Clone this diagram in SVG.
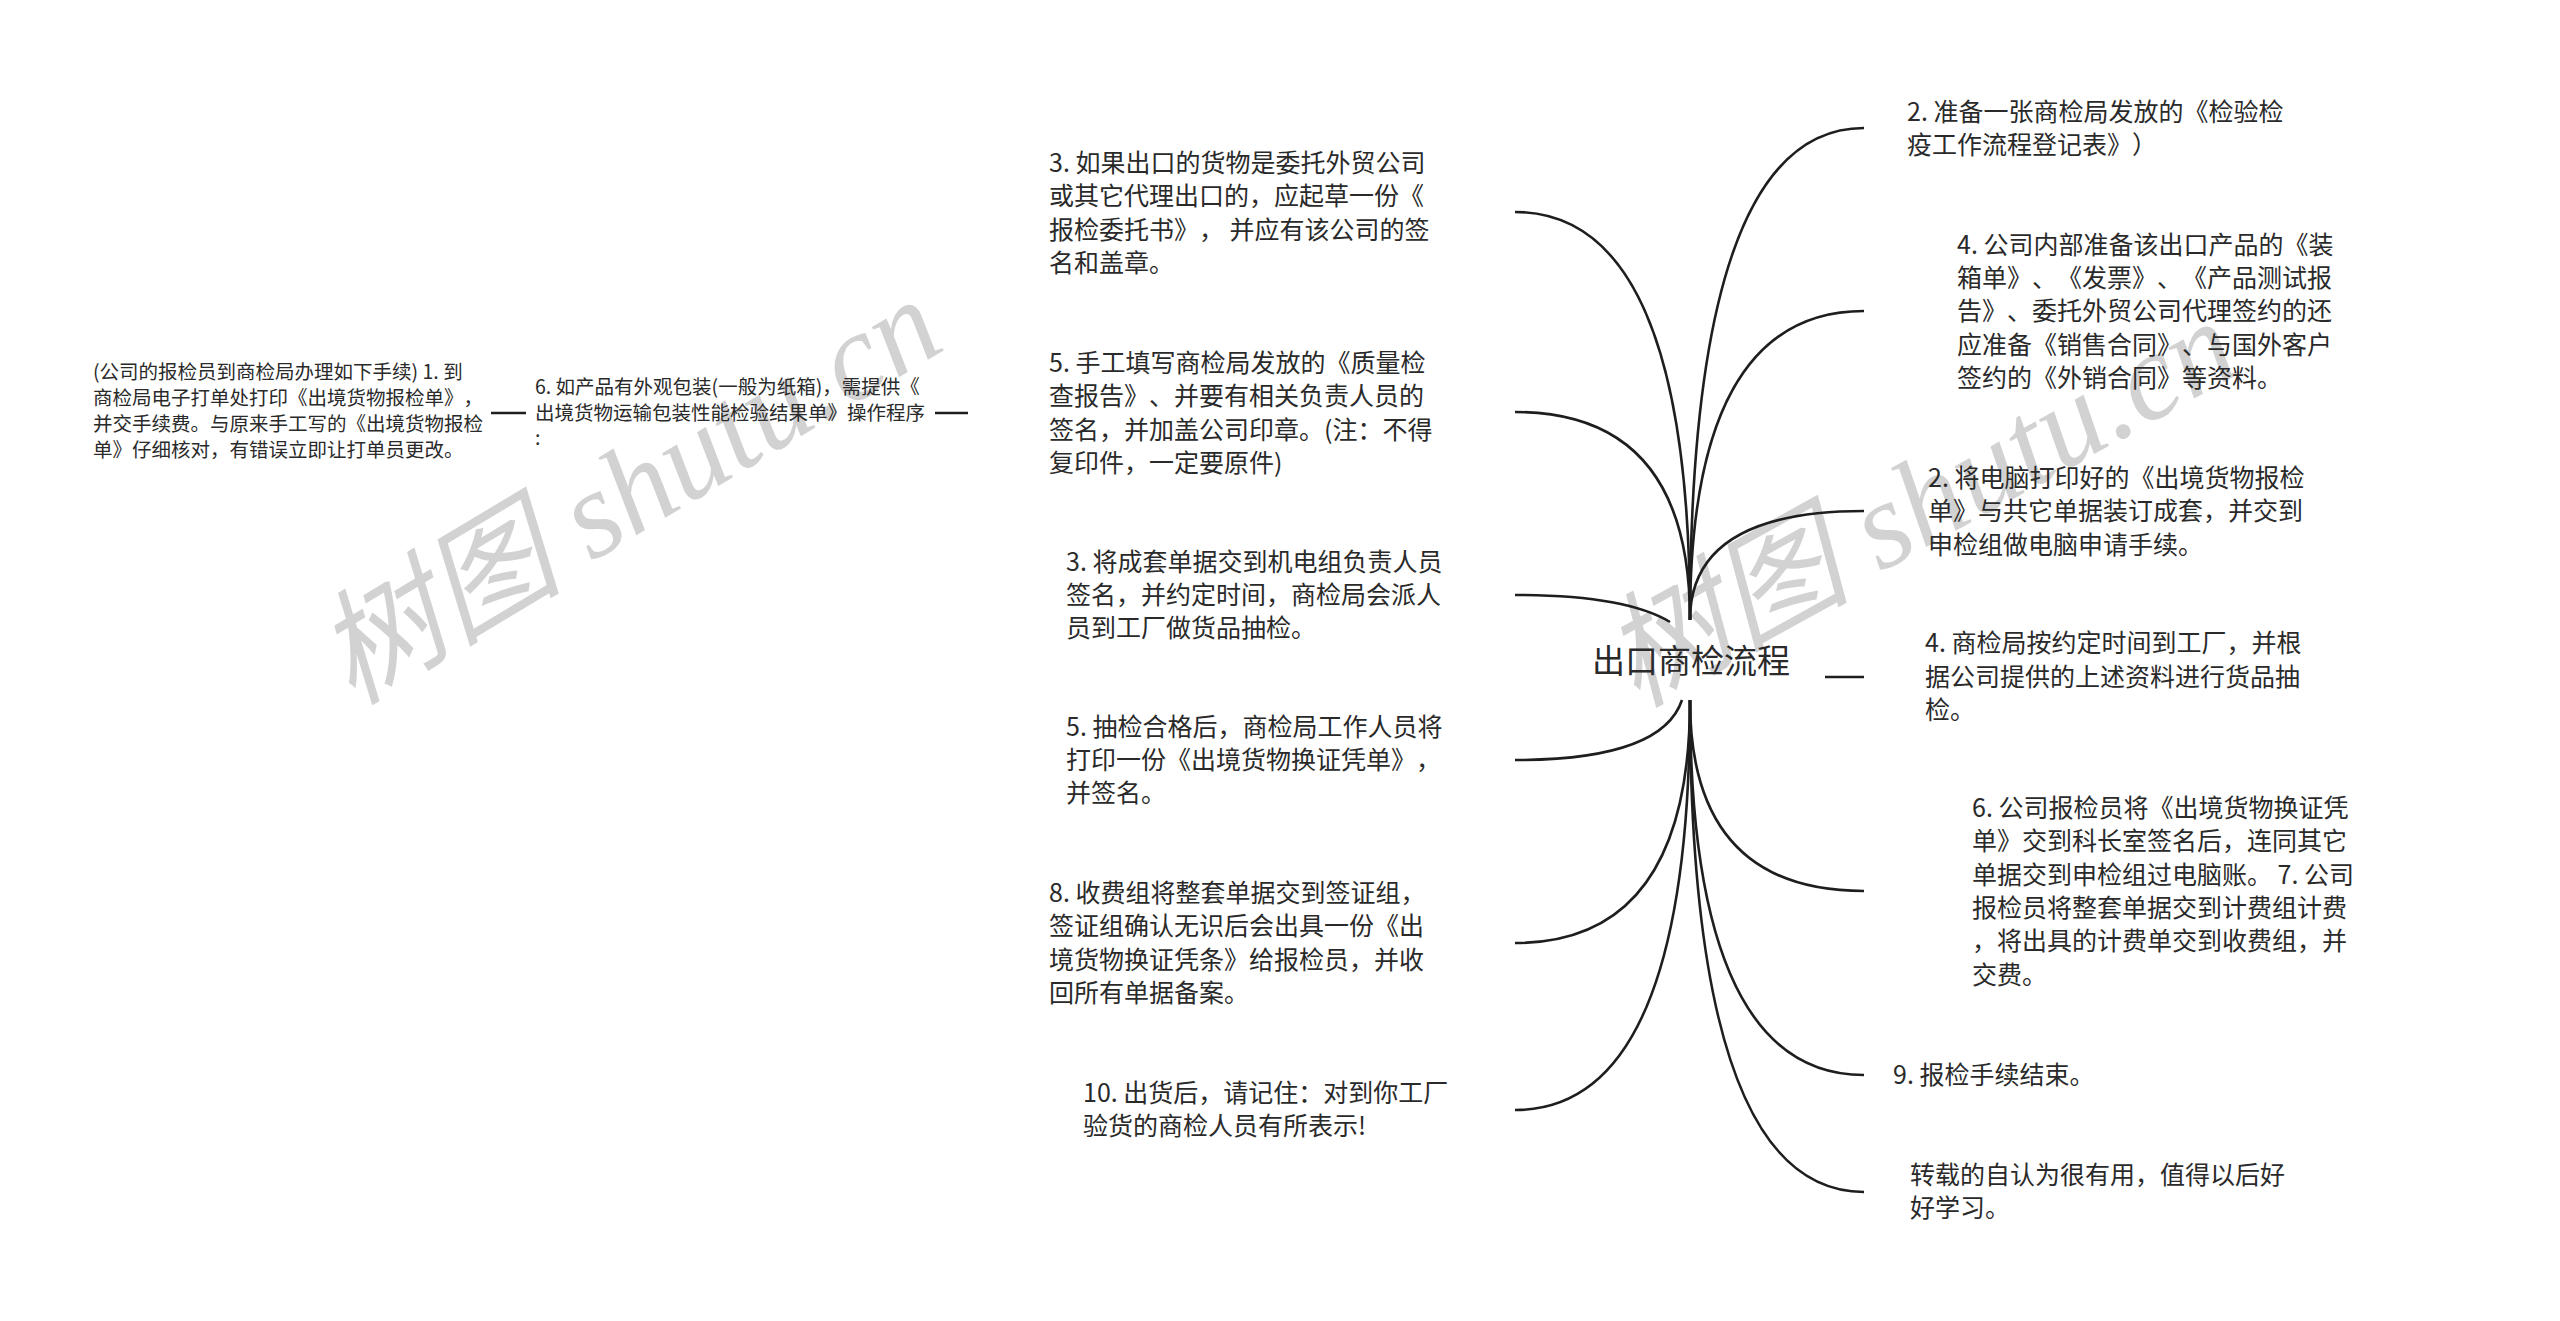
<svg xmlns="http://www.w3.org/2000/svg" width="2560" height="1321" viewBox="0 0 2560 1321">
<style>
text{text-spacing-trim:space-all}
.t{font-family:"Noto Sans CJK SC","Noto Sans",sans-serif;font-size:25px;fill:#2a2a2a}
.s{font-family:"Noto Sans CJK SC","Noto Sans",sans-serif;font-size:19.5px;fill:#2a2a2a}
.title{font-family:"Noto Sans CJK SC","Noto Sans",sans-serif;font-size:33px;fill:#2a2a2a}
.wm{font-family:"Liberation Serif","Noto Sans CJK SC",serif;font-style:italic;font-size:124px;fill:#d2d2d2}
.c{fill:none;stroke:#1e1e1e;stroke-width:2.6;stroke-linecap:butt}
</style>
<rect width="2560" height="1321" fill="#ffffff"/>
<g id="watermark">
<text class="wm" transform="translate(352,706) rotate(-31)">树图 shutu.cn</text>
<text class="wm" transform="translate(1636,708) rotate(-29)">树图 shutu.cn</text>
</g>
<g id="connectors">
<path class="c" d="M1690 620 Q1690 212 1515 212"/>
<path class="c" d="M1690 620 Q1690 412 1515 412"/>
<path class="c" d="M1670 622 Q1625 595 1515 595"/>
<path class="c" d="M1690 620 Q1690 128 1864 128"/>
<path class="c" d="M1690 620 Q1690 311 1864 311"/>
<path class="c" d="M1690 620 Q1690 511 1864 511"/>
<path class="c" d="M1825 677 H1864"/>
<path class="c" d="M1682 700 Q1662 760 1515 760"/>
<path class="c" d="M1690 700 Q1690 943 1515 943"/>
<path class="c" d="M1690 700 Q1690 1110 1515 1110"/>
<path class="c" d="M1690 700 Q1690 891 1864 891"/>
<path class="c" d="M1690 700 Q1690 1075 1864 1075"/>
<path class="c" d="M1690 700 Q1690 1192 1864 1192"/>
<path class="c" d="M935 413 H968"/>
<path class="c" d="M491 413 H526"/>
</g>
<g id="root">
<text class="title" x="1691" y="673" text-anchor="middle">出口商检流程</text>
</g>
<g id="n-l1">
<text class="t" x="1049" y="172">3. 如果出口的货物是委托外贸公司</text>
<text class="t" x="1049" y="205">或其它代理出口的，应起草一份《</text>
<text class="t" x="1049" y="239">报检委托书》， 并应有该公司的签</text>
<text class="t" x="1049" y="272">名和盖章。</text>
</g>
<g id="n-l2">
<text class="t" x="1049" y="372">5. 手工填写商检局发放的《质量检</text>
<text class="t" x="1049" y="405">查报告》、并要有相关负责人员的</text>
<text class="t" x="1049" y="439">签名，并加盖公司印章。(注：不得</text>
<text class="t" x="1049" y="472">复印件，一定要原件)</text>
</g>
<g id="n-l2a">
<text class="s" x="535" y="394">6. 如产品有外观包装(一般为纸箱)，需提供《</text>
<text class="s" x="535" y="420">出境货物运输包装性能检验结果单》操作程序</text>
<text class="s" x="535" y="445">:</text>
</g>
<g id="n-l2b">
<text class="s" x="93" y="379">(公司的报检员到商检局办理如下手续) 1. 到</text>
<text class="s" x="93" y="405">商检局电子打单处打印《出境货物报检单》，</text>
<text class="s" x="93" y="431">并交手续费。与原来手工写的《出境货物报检</text>
<text class="s" x="93" y="457">单》仔细核对，有错误立即让打单员更改。</text>
</g>
<g id="n-l3">
<text class="t" x="1066" y="571">3. 将成套单据交到机电组负责人员</text>
<text class="t" x="1066" y="604">签名，并约定时间，商检局会派人</text>
<text class="t" x="1066" y="637">员到工厂做货品抽检。</text>
</g>
<g id="n-l4">
<text class="t" x="1066" y="736">5. 抽检合格后，商检局工作人员将</text>
<text class="t" x="1066" y="769">打印一份《出境货物换证凭单》，</text>
<text class="t" x="1066" y="802">并签名。</text>
</g>
<g id="n-l5">
<text class="t" x="1049" y="902">8. 收费组将整套单据交到签证组，</text>
<text class="t" x="1049" y="935">签证组确认无识后会出具一份《出</text>
<text class="t" x="1049" y="969">境货物换证凭条》给报检员，并收</text>
<text class="t" x="1049" y="1002">回所有单据备案。</text>
</g>
<g id="n-l6">
<text class="t" x="1083" y="1102">10. 出货后，请记住：对到你工厂</text>
<text class="t" x="1083" y="1135">验货的商检人员有所表示!</text>
</g>
<g id="n-r1">
<text class="t" x="1907" y="121">2. 准备一张商检局发放的《检验检</text>
<text class="t" x="1907" y="154">疫工作流程登记表》）</text>
</g>
<g id="n-r2">
<text class="t" x="1957" y="254">4. 公司内部准备该出口产品的《装</text>
<text class="t" x="1957" y="287">箱单》、《发票》、《产品测试报</text>
<text class="t" x="1957" y="320">告》、委托外贸公司代理签约的还</text>
<text class="t" x="1957" y="354">应准备《销售合同》、与国外客户</text>
<text class="t" x="1957" y="387">签约的《外销合同》等资料。</text>
</g>
<g id="n-r3">
<text class="t" x="1928" y="487">2. 将电脑打印好的《出境货物报检</text>
<text class="t" x="1928" y="520">单》与共它单据装订成套，并交到</text>
<text class="t" x="1928" y="554">申检组做电脑申请手续。</text>
</g>
<g id="n-r4">
<text class="t" x="1925" y="652">4. 商检局按约定时间到工厂，并根</text>
<text class="t" x="1925" y="686">据公司提供的上述资料进行货品抽</text>
<text class="t" x="1925" y="719">检。</text>
</g>
<g id="n-r5">
<text class="t" x="1972" y="817">6. 公司报检员将《出境货物换证凭</text>
<text class="t" x="1972" y="850">单》交到科长室签名后，连同其它</text>
<text class="t" x="1972" y="884">单据交到申检组过电脑账。 7. 公司</text>
<text class="t" x="1972" y="917">报检员将整套单据交到计费组计费</text>
<text class="t" x="1972" y="950">，将出具的计费单交到收费组，并</text>
<text class="t" x="1972" y="984">交费。</text>
</g>
<g id="n-r6">
<text class="t" x="1893" y="1084">9. 报检手续结束。</text>
</g>
<g id="n-r7">
<text class="t" x="1910" y="1184">转载的自认为很有用，值得以后好</text>
<text class="t" x="1910" y="1217">好学习。</text>
</g>
</svg>
